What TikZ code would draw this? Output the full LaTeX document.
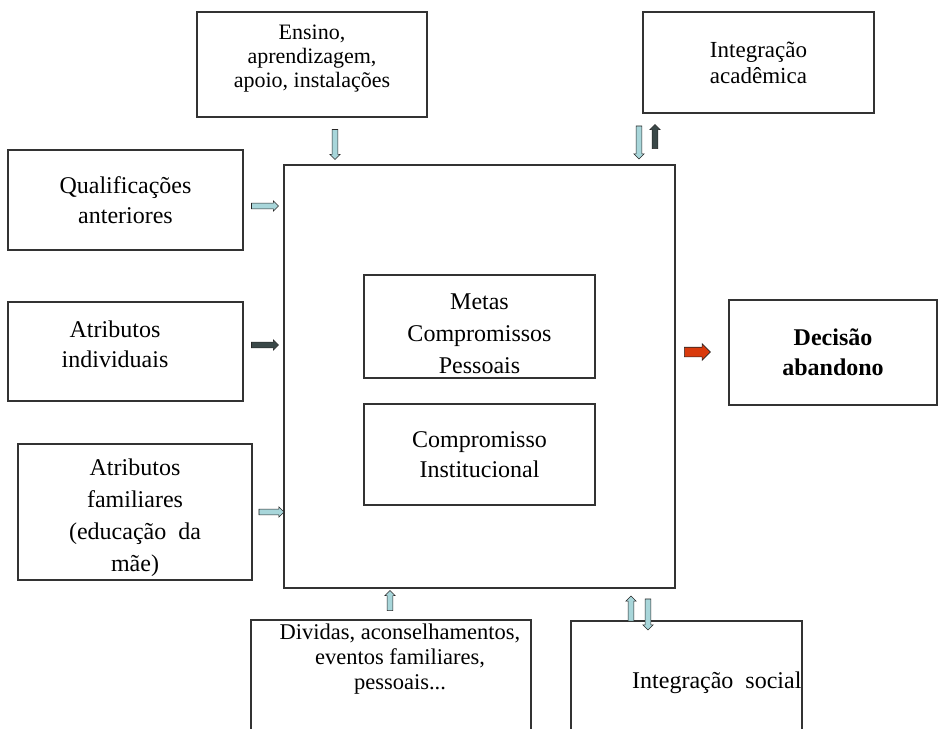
\documentclass[tikz,border=0pt]{standalone}
\usepackage{fontspec}
\setmainfont{Liberation Serif}
\usetikzlibrary{shapes.arrows}
\definecolor{arrlight}{HTML}{A8D6DA}
\definecolor{arrdark}{HTML}{3A4848}
\definecolor{arrred}{HTML}{D93A0C}

\begin{document}
\begin{tikzpicture}[x=1pt, y=-1pt,
box/.style={draw=black!80, line width=1.2pt, inner sep=0pt, align=center, font=\fontsize{24}{30}\selectfont},
boxtext/.style={inner sep=0pt, align=center, font=\fontsize{24}{30}\selectfont},
blockarrow/.style={single arrow, draw=black!85, line width=0.6pt, inner sep=2.6pt, minimum width=10pt, single arrow head extend=2.2pt, single arrow head indent=0pt, fill=arrlight}
]
    \useasboundingbox (0,0) rectangle (950,728);

    %Boxes
    \node[box, minimum width=391pt, minimum height=423pt] (centro) at (479.5,376.5) {};
    \node[box, minimum width=231pt, minimum height=103pt] (metas) at (479.5,326.5) {};
    \node[boxtext, font=\fontsize{24}{32}\selectfont] (metastxt) at (479.5,334)
        {Metas\\Compromissos\\Pessoais};
    \node[box, minimum width=231pt, minimum height=101pt] (instit) at (479.5,454.5)
        {Compromisso\\Institucional};
    \node[box, minimum width=230pt, minimum height=105pt] (ensino) at (312,64.5) {};
    \node[boxtext, font=\fontsize{22}{24}\selectfont] (ensinotxt) at (312,58.5)
        {Ensino,\\aprendizagem,\\apoio, instalações};
    \node[box, minimum width=231pt, minimum height=101pt, font=\fontsize{23}{26}\selectfont] (academica) at (758.5,62.5)
        {Integração\\acadêmica};
    \node[box, minimum width=235pt, minimum height=100pt] (qualif) at (125.5,200)
        {Qualificações\\anteriores};
    \node[box, minimum width=235pt, minimum height=99pt] (individ) at (125.5,351.5) {};
    \node[boxtext] (individtxt) at (115,344) {Atributos\\individuais};
    \node[box, minimum width=234pt, minimum height=136pt] (famil) at (135,512) {};
    \node[boxtext, font=\fontsize{24}{32}\selectfont] (familtxt) at (135,518)
        {Atributos\\familiares\\(educação\ \ da\\mãe)};
    \node[box, minimum width=208pt, minimum height=105pt, font=\bfseries\fontsize{24}{30}\selectfont] (decisao) at (833,352.5)
        {Decisão\\abandono};
    \node[box, minimum width=280pt, minimum height=140pt] (dividas) at (391,690) {};
    \node[boxtext, anchor=north, font=\fontsize{22.5}{25}\selectfont] (dividastxt) at (400,624)
        {Dividas, aconselhamentos,\\eventos familiares,\\pessoais...};
    \node[box, minimum width=231pt, minimum height=124pt] (social) at (686.5,683) {};
    \node[boxtext, anchor=west] (socialtxt) at (632,683) {Integração\ \ social};

    %Arrows
    \node[blockarrow, shape border rotate=270, minimum height=30pt] (a-ensino) at (335,143) {};
    \node[blockarrow, shape border rotate=270, minimum height=33pt] (a-acad-in) at (639,141) {};
    \node[blockarrow, shape border rotate=90, minimum height=24pt, fill=arrdark] (a-acad-out) at (655,138) {};
    \node[blockarrow, minimum height=27pt] (a-qualif) at (263.5,206) {};
    \node[blockarrow, minimum height=27pt, fill=arrdark] (a-individ) at (263.5,345) {};
    \node[blockarrow, minimum height=25pt] (a-famil) at (270,512) {};
    \node[blockarrow, minimum height=26pt, minimum width=16pt, inner sep=4.5pt,
          single arrow head extend=3.5pt, fill=arrred] (a-decisao) at (695,352) {};
    \node[blockarrow, shape border rotate=90, minimum height=20pt] (a-dividas) at (390,602) {};
    \node[blockarrow, shape border rotate=90, minimum height=25pt] (a-social-out) at (631,610) {};
    \node[blockarrow, shape border rotate=270, minimum height=31pt] (a-social-in) at (648,613) {};
\end{tikzpicture}
\end{document}
